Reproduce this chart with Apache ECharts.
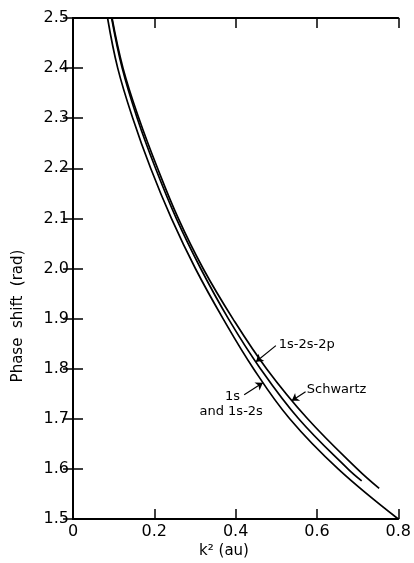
<!DOCTYPE html>
<html><head><meta charset="utf-8">
<script src="https://cdn.jsdelivr.net/npm/echarts@6.0.0/dist/echarts.min.js"></script>
<style>html,body{margin:0;padding:0;background:#fff}#c{width:414px;height:563px}</style>
</head><body><div id="c"></div>
<script>
// Curve "1s and 1s-2s"
const phase_1s = [2.5, 2.4, 2.3, 2.2, 2.1, 2.0, 1.9, 1.8, 1.7, 1.6, 1.5];
const k2_1s    = [0.085, 0.110, 0.147, 0.191, 0.242, 0.301, 0.369, 0.444, 0.533, 0.652, 0.800];
// Curve "1s-2s-2p"
const phase_2p = [2.5, 2.4, 2.3, 2.2, 2.1, 2.0, 1.9, 1.8, 1.7, 1.6, 1.576];
const k2_2p    = [0.095, 0.121, 0.158, 0.203, 0.254, 0.314, 0.382, 0.461, 0.555, 0.676, 0.710];
// Curve "Schwartz"
const phase_sw = [2.5, 2.4, 2.3, 2.2, 2.1, 2.0, 1.9, 1.8, 1.7, 1.6, 1.561];
const k2_sw    = [0.096, 0.123, 0.162, 0.208, 0.259, 0.320, 0.393, 0.476, 0.577, 0.699, 0.753];

const xTicks = [0, 0.2, 0.4, 0.6, 0.8];
const yTicks = [1.5, 1.6, 1.7, 1.8, 1.9, 2.0, 2.1, 2.2, 2.3, 2.4, 2.5];

// annotations (data coordinates)
const labelText  = ['1s-2s-2p', '1s', 'and 1s-2s', 'Schwartz'];
const labelPos   = [[0.506, 1.848], [0.411, 1.744], [0.467, 1.714], [0.575, 1.758]];
const labelSide  = ['right', 'left', 'left', 'right'];
const arrowFrom  = [[0.499, 1.846], [0.421, 1.748], [0.572, 1.754]];
const arrowTo    = [[0.450, 1.814], [0.467, 1.772], [0.538, 1.736]];

const FONT = '"DejaVu Sans", sans-serif';
const pairs = (xs, ys) => xs.map((x, i) => [x, ys[i]]);

const tickStyle = {inside: true, length: 10, lineStyle: {color: '#000', width: 1.5}};
const lineAx = {lineStyle: {color: '#000', width: 2}};
const fmt = v => (Math.abs(v) < 1e-9 ? '0' : v.toFixed(1));

const chart = echarts.init(document.getElementById('c'), null, {renderer: 'canvas'});
const curveStyle = {color: '#000', width: 1.7};

chart.setOption({
  animation: false,
  backgroundColor: '#fff',
  grid: {left: 73, right: 13, top: 18, bottom: 44, containLabel: false},
  xAxis: [
    {type: 'value', min: xTicks[0], max: xTicks[xTicks.length - 1], interval: 0.2, position: 'bottom',
     axisLine: lineAx, axisTick: tickStyle, splitLine: {show: false},
     axisLabel: {formatter: fmt, fontSize: 16, color: '#000', margin: 5, fontFamily: FONT, showMinLabel: true, showMaxLabel: true}},
    {type: 'value', min: xTicks[0], max: xTicks[xTicks.length - 1], interval: 0.2, position: 'top',
     axisLine: lineAx, axisTick: tickStyle, splitLine: {show: false}, axisLabel: {show: false}}
  ],
  yAxis: [
    {type: 'value', min: yTicks[0], max: yTicks[yTicks.length - 1], interval: 0.1, position: 'left',
     axisLine: lineAx, axisTick: tickStyle, splitLine: {show: false},
     axisLabel: {formatter: fmt, fontSize: 16, color: '#000', margin: 4, fontFamily: FONT, showMinLabel: true, showMaxLabel: true}},
    {type: 'value', min: yTicks[0], max: yTicks[yTicks.length - 1], interval: 0.1, position: 'right',
     axisLine: lineAx, axisTick: tickStyle, splitLine: {show: false}, axisLabel: {show: false}}
  ],
  graphic: [
    {type: 'text', x: 18, y: 316, rotation: Math.PI / 2,
     style: {text: 'Phase  shift  (rad)', font: '15px ' + FONT, fill: '#000', align: 'center', verticalAlign: 'middle'}},
    {type: 'text', x: 224, y: 551,
     style: {text: 'k\u00B2 (au)', font: '15px ' + FONT, fill: '#000', align: 'center', verticalAlign: 'middle'}}
  ],
  series: [
    {name: '1s and 1s-2s', type: 'line', data: pairs(k2_1s, phase_1s), smooth: 0.4, symbol: 'none',
     lineStyle: curveStyle, clip: true,
     markLine: {silent: true, symbol: ['none', 'arrow'], symbolSize: 7, animation: false,
       lineStyle: {color: '#000', width: 1.2, type: 'solid'}, label: {show: false},
       data: arrowFrom.map((f, i) => [{coord: f}, {coord: arrowTo[i]}])},
     markPoint: {silent: true, symbol: 'circle', symbolSize: 0, animation: false,
       data: labelText.map((t, i) => ({coord: labelPos[i], value: t,
         label: {show: true, formatter: t, position: labelSide[i], distance: 0, color: '#000', fontSize: 13, fontFamily: FONT}}))}},
    {name: '1s-2s-2p', type: 'line', data: pairs(k2_2p, phase_2p), smooth: 0.4, symbol: 'none',
     lineStyle: curveStyle, clip: true},
    {name: 'Schwartz', type: 'line', data: pairs(k2_sw, phase_sw), smooth: 0.4, symbol: 'none',
     lineStyle: curveStyle, clip: true}
  ]
});
</script></body></html>
